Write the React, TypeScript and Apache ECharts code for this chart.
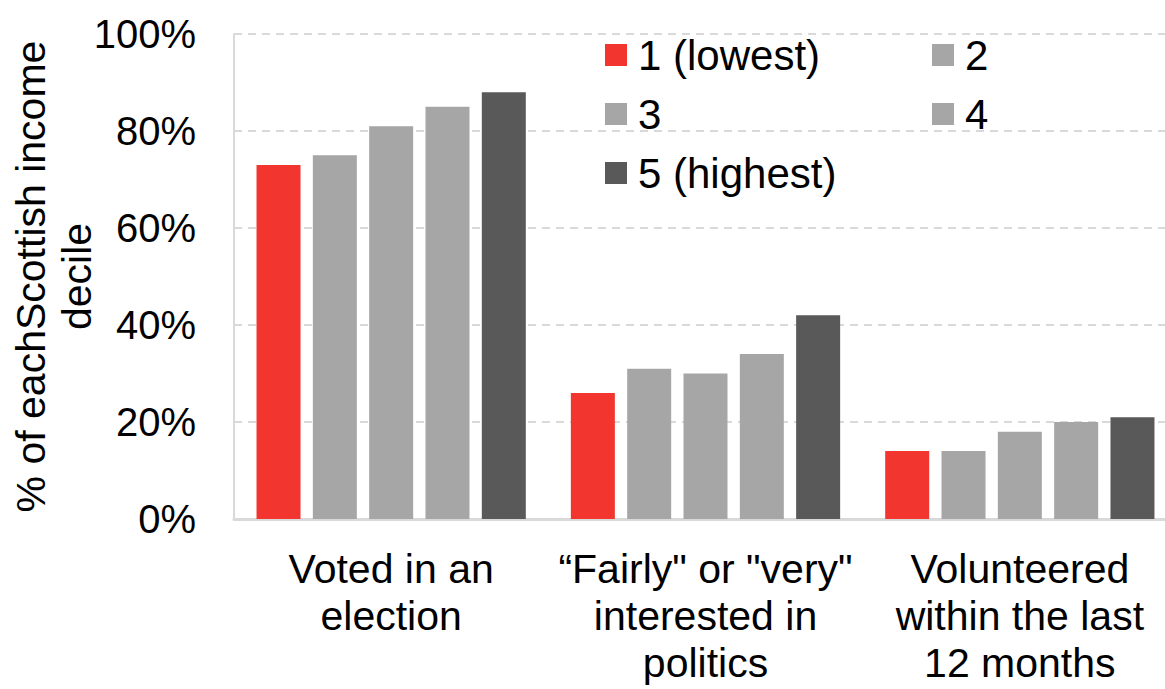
import React, { useEffect, useRef } from "react";
import * as echarts from "echarts";

// Participation measures shown along the x axis
const categories = [
  "Voted in an\nelection",
  "\u201cFairly\" or \"very\"\ninterested in\npolitics",
  "Volunteered\nwithin the last\n12 months",
];

// Income groups (legend entries)
const groups = ["1 (lowest)", "2", "3", "4", "5 (highest)"];

// Percentage of each group, per measure (same order as categories)
const group1 = [73, 26, 14];
const group2 = [75, 31, 14];
const group3 = [81, 30, 18];
const group4 = [85, 34, 20];
const group5 = [88, 42, 21];

const yTicks = [0, 20, 40, 60, 80, 100];

const groupValues = [group1, group2, group3, group4, group5];
const groupColors = ["#F2352E", "#A6A6A6", "#A6A6A6", "#A6A6A6", "#595959"];

const FONT = "'Liberation Sans', Arial, Helvetica, sans-serif";

// Legend laid out as a two-column grid
const legendSlots = [
  { left: 605, top: 34 },
  { left: 932, top: 34 },
  { left: 605, top: 93 },
  { left: 932, top: 93 },
  { left: 605, top: 152 },
];

export default function App() {
  const ref = useRef<HTMLDivElement>(null);

  useEffect(() => {
    if (!ref.current) return;
    const chart = echarts.init(ref.current, null, { renderer: "svg" });

    const option: any = {
      animation: false,
      backgroundColor: "#ffffff",
      grid: {
        left: 234,
        right: -12,
        top: 34,
        bottom: 170,
        containLabel: false,
        outerBoundsMode: "none",
      },
      legend: groups.map((g, i) => ({
        data: [g],
        left: legendSlots[i].left,
        top: legendSlots[i].top,
        padding: 0,
        itemGap: 0,
        itemWidth: 22,
        itemHeight: 22,
        icon: "rect",
        selectedMode: false,
        textStyle: {
          fontSize: 42,
          lineHeight: 40,
          fontFamily: FONT,
          color: "#000000",
          padding: [0, 0, 0, 6],
        },
      })),
      xAxis: {
        type: "category",
        data: categories,
        axisTick: { show: false },
        axisLine: { show: true, lineStyle: { color: "#d9d9d9", width: 3 } },
        axisLabel: {
          interval: 0,
          margin: 26,
          fontSize: 41,
          lineHeight: 47,
          fontFamily: FONT,
          color: "#000000",
        },
      },
      yAxis: {
        type: "value",
        min: yTicks[0],
        max: yTicks[yTicks.length - 1],
        interval: 20,
        name: "% of eachScottish income\ndecile",
        nameLocation: "middle",
        nameRotate: 90,
        nameGap: 134,
        nameMoveOverlap: false,
        nameTextStyle: {
          fontSize: 41,
          lineHeight: 46,
          fontFamily: FONT,
          color: "#000000",
        },
        axisLine: { show: true, lineStyle: { color: "#d9d9d9", width: 2 } },
        axisTick: { show: false },
        axisLabel: {
          margin: 38,
          fontSize: 40,
          fontFamily: FONT,
          color: "#000000",
          formatter: "{value}%",
        },
        splitLine: {
          show: true,
          lineStyle: { color: "#d9d9d9", width: 2, type: [8, 6] },
        },
      },
      series: groups.map((g, i) => ({
        name: g,
        type: "bar",
        data: groupValues[i],
        barWidth: 44,
        barGap: "28%",
        itemStyle: { color: groupColors[i] },
      })),
    };

    chart.setOption(option);
    return () => chart.dispose();
  }, []);

  return (
    <div
      ref={ref}
      style={{ position: "fixed", left: 0, top: 0, width: 1165, height: 689 }}
    />
  );
}
